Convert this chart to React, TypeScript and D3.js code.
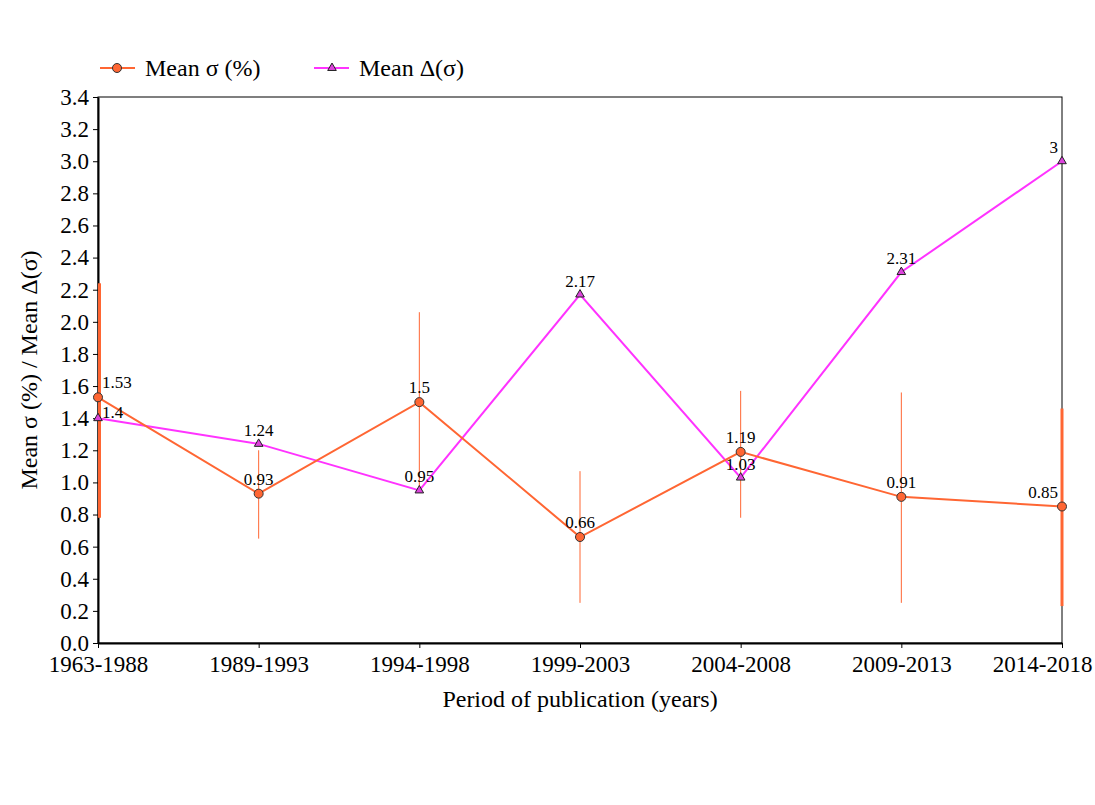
import React, { useEffect, useRef } from "react";
import * as d3 from "d3";

const periods = ["1963-1988", "1989-1993", "1994-1998", "1999-2003", "2004-2008", "2009-2013", "2014-2018"];
const meanSigma = [1.53, 0.93, 1.5, 0.66, 1.19, 0.91, 0.85];
const meanDelta = [1.4, 1.24, 0.95, 2.17, 1.03, 2.31, 3];
const errLow = [0.78, 0.65, 0.95, 0.25, 0.78, 0.25, 0.23];
const errHigh = [2.24, 1.2, 2.06, 1.07, 1.57, 1.56, 1.46];
const yTicks = d3.range(0, 3.41, 0.2);

const ORANGE = "#ff6633";
const MAGENTA = "#ff33ff";
const FONT = "'Liberation Serif', 'Times New Roman', serif";

const App: React.FC = () => {
  const svgRef = useRef<SVGSVGElement | null>(null);
  const width = 1095;
  const height = 805;

  useEffect(() => {
    const svg = d3.select(svgRef.current);
    svg.selectAll("*").remove();

    const margin = { top: 97, right: 33, bottom: 162, left: 98 };
    const innerWidth = width - margin.left - margin.right;
    const innerHeight = height - margin.top - margin.bottom;

    const g = svg.append("g").attr("transform", `translate(${margin.left},${margin.top})`);

    const x = d3.scalePoint<string>().domain(periods).range([0, innerWidth]).padding(0);
    const y = d3.scaleLinear().domain([0, 3.4]).range([innerHeight, 0]);

    // frame
    g.append("rect")
      .attr("width", innerWidth)
      .attr("height", innerHeight)
      .attr("fill", "none")
      .attr("stroke", "black")
      .attr("stroke-width", 1);

    // axes
    const yAxis = g.append("g").call(
      d3.axisLeft(y).tickValues(yTicks).tickFormat(d3.format(".1f")).tickSize(5).tickSizeOuter(0)
    );
    yAxis.select(".domain").attr("stroke-width", 2);
    yAxis.selectAll("text").style("font-family", FONT).style("font-size", "23px").attr("fill", "black").attr("x", -9);

    const xAxis = g.append("g")
      .attr("transform", `translate(0,${innerHeight})`)
      .call(d3.axisBottom(x).tickSize(5).tickSizeOuter(0));
    xAxis.select(".domain").attr("stroke-width", 2);
    xAxis.selectAll("text")
      .style("font-family", FONT)
      .style("font-size", "23px")
      .attr("fill", "black")
      .attr("y", 13)
      .attr("text-anchor", (_, i) => (i === periods.length - 1 ? "end" : "middle"))
      .attr("x", (_, i) => (i === periods.length - 1 ? 30 : 0));

    // error bars
    periods.forEach((p, i) => {
      const edge = i === 0 || i === periods.length - 1;
      g.append("line")
        .attr("x1", x(p)! + (i === 0 ? 1.5 : 0))
        .attr("x2", x(p)! + (i === 0 ? 1.5 : 0))
        .attr("y1", y(errLow[i]))
        .attr("y2", y(errHigh[i]))
        .attr("stroke", ORANGE)
        .attr("stroke-width", edge ? 3 : 1);
    });

    const line = d3.line<number>().x((_, i) => x(periods[i])!).y((d) => y(d));

    g.append("path")
      .datum(meanDelta)
      .attr("fill", "none")
      .attr("stroke", MAGENTA)
      .attr("stroke-width", 2)
      .attr("d", line);

    g.append("path")
      .datum(meanSigma)
      .attr("fill", "none")
      .attr("stroke", ORANGE)
      .attr("stroke-width", 2)
      .attr("d", line);

    const tri = d3.symbol().type(d3.symbolTriangle).size(32);
    g.selectAll(".tri")
      .data(meanDelta)
      .enter()
      .append("path")
      .attr("d", tri)
      .attr("transform", (d, i) => `translate(${x(periods[i])},${y(d)})`)
      .attr("fill", "#dd44dd")
      .attr("stroke", "#222")
      .attr("stroke-width", 1);

    g.selectAll(".dot")
      .data(meanSigma)
      .enter()
      .append("circle")
      .attr("cx", (_, i) => x(periods[i])!)
      .attr("cy", (d) => y(d))
      .attr("r", 4.5)
      .attr("fill", ORANGE)
      .attr("stroke", "#333")
      .attr("stroke-width", 1);

    // labels
    const last = periods.length - 1;
    const label = (v: number, i: number, dy: number) => {
      let xp = x(periods[i])!;
      let anchor = "middle";
      if (i === 0) { xp += 4; anchor = "start"; }
      if (i === last) { xp -= 4; anchor = "end"; }
      g.append("text")
        .attr("x", xp)
        .attr("y", y(v) + dy)
        .attr("text-anchor", anchor)
        .style("font-family", FONT)
        .style("font-size", "17px")
        .text(String(v));
    };
    meanSigma.forEach((v, i) => label(v, i, -9));
    meanDelta.forEach((v, i) => label(v, i, i === 0 ? 0 : -8));

    // axis titles
    g.append("text")
      .attr("x", innerWidth / 2)
      .attr("y", innerHeight + 64)
      .attr("text-anchor", "middle")
      .style("font-family", FONT)
      .style("font-size", "24px")
      .text("Period of publication (years)");

    g.append("text")
      .attr("transform", `translate(${-61},${innerHeight / 2}) rotate(-90)`)
      .attr("text-anchor", "middle")
      .style("font-family", FONT)
      .style("font-size", "24px")
      .text("Mean σ (%) / Mean Δ(σ)");

    // legend
    const legend = svg.append("g").attr("transform", "translate(100,68)");
    const items = [
      { label: "Mean σ (%)", color: ORANGE, marker: "circle", x: 0 },
      { label: "Mean Δ(σ)", color: MAGENTA, marker: "tri", x: 214 },
    ];
    items.forEach((it) => {
      const row = legend.append("g").attr("transform", `translate(${it.x},0)`);
      row.append("line").attr("x1", 0).attr("x2", 35).attr("stroke", it.color).attr("stroke-width", 2);
      if (it.marker === "circle") {
        row.append("circle").attr("cx", 17).attr("r", 4.5).attr("fill", ORANGE).attr("stroke", "#333");
      } else {
        row.append("path").attr("d", tri).attr("transform", "translate(18,0)").attr("fill", "#dd44dd").attr("stroke", "#222");
      }
      row.append("text")
        .attr("x", 45)
        .attr("y", 8)
        .style("font-family", FONT)
        .style("font-size", "24px")
        .text(it.label);
    });
  }, []);

  return (
    <svg
      ref={svgRef}
      width={width}
      height={height}
      style={{ position: "absolute", left: 0, top: 0, background: "white" }}
    ></svg>
  );
};

export default App;
